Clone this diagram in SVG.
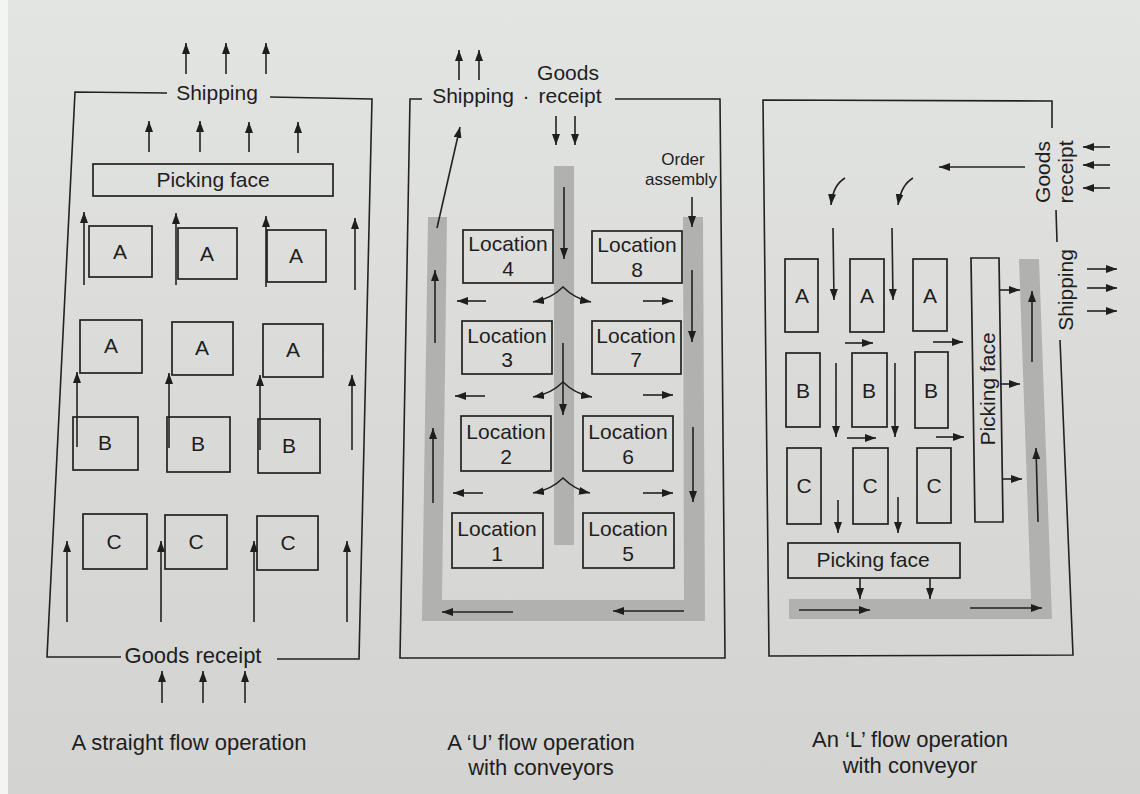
<svg xmlns="http://www.w3.org/2000/svg" width="1140" height="794" viewBox="0 0 1140 794">
  <defs>
    <linearGradient id="paper" x1="0" y1="0" x2="0" y2="1">
      <stop offset="0" stop-color="#e3e5e3"/>
      <stop offset="0.5" stop-color="#dadbd9"/>
      <stop offset="1" stop-color="#d3d3d1"/>
    </linearGradient>
    <marker id="ah" viewBox="0 0 11 8" refX="11" refY="4" markerWidth="11" markerHeight="8" markerUnits="userSpaceOnUse" orient="auto-start-reverse">
      <path d="M0,0 L11,4 L0,8 Z" fill="#1e1e1e"/>
    </marker>
    <style>
      .frame { fill: none; stroke: #222; stroke-width: 1.6; }
      .box { fill: none; stroke: #222; stroke-width: 1.7; }
      .conv { fill: #b1b1af; stroke: none; }
      .arr { fill: none; stroke: #222; stroke-width: 1.6; marker-end: url(#ah); }
      .split { fill: none; stroke: #222; stroke-width: 1.6; marker-start: url(#ah); marker-end: url(#ah); }
      .t { font-family: "Liberation Sans", Arial, Helvetica, sans-serif; fill: #1e1e1e; text-anchor: middle; font-size: 21px; }
      .sm { font-size: 17px; }
      .cap { font-size: 22px; }
    </style>
  </defs>

  <!-- page -->
  <rect x="0" y="0" width="1140" height="794" fill="url(#paper)"/>
  <rect x="0" y="0" width="8" height="794" fill="#f4f4f2"/>

  <!-- ===== Straight flow operation ===== -->
  <g id="straight-flow">
    <path class="frame" d="M167,93 L75,92 L47,657 L121,657 M270,97 L372,99 L359,659 L277,659"/>
    <g id="sf-shipping"><text class="t" x="217" y="100">Shipping</text></g>
    <g id="sf-picking-face">
      <rect class="box" x="93" y="164" width="240" height="32"/>
      <text class="t" x="213" y="187">Picking face</text>
    </g>
    <g id="sf-a1"><rect class="box" x="89" y="226" width="63" height="51"/><text class="t" x="120" y="259">A</text></g>
    <g id="sf-a2"><rect class="box" x="178" y="228" width="59" height="51"/><text class="t" x="207" y="261">A</text></g>
    <g id="sf-a3"><rect class="box" x="267" y="230" width="59" height="52"/><text class="t" x="296" y="263">A</text></g>
    <g id="sf-a4"><rect class="box" x="80" y="320" width="62" height="53"/><text class="t" x="111" y="353">A</text></g>
    <g id="sf-a5"><rect class="box" x="172" y="322" width="61" height="53"/><text class="t" x="202" y="355">A</text></g>
    <g id="sf-a6"><rect class="box" x="263" y="324" width="60" height="53"/><text class="t" x="293" y="357">A</text></g>
    <g id="sf-b1"><rect class="box" x="73" y="417" width="65" height="53"/><text class="t" x="105" y="450">B</text></g>
    <g id="sf-b2"><rect class="box" x="167" y="417" width="63" height="55"/><text class="t" x="198" y="451">B</text></g>
    <g id="sf-b3"><rect class="box" x="258" y="419" width="62" height="54"/><text class="t" x="289" y="453">B</text></g>
    <g id="sf-c1"><rect class="box" x="83" y="514" width="64" height="55"/><text class="t" x="114" y="549">C</text></g>
    <g id="sf-c2"><rect class="box" x="165" y="515" width="62" height="54"/><text class="t" x="196" y="549">C</text></g>
    <g id="sf-c3"><rect class="box" x="257" y="516" width="61" height="54"/><text class="t" x="288" y="550">C</text></g>
    <g id="sf-goods-receipt"><text class="t cap" x="193" y="663">Goods receipt</text></g>
    <g id="sf-caption"><text class="t cap" x="189" y="750">A straight flow operation</text></g>
  </g>

  <!-- ===== U flow operation with conveyors ===== -->
  <g id="u-flow">
    <path class="frame" d="M422,99 L410,99 L400,658 L725,658 L720,99 L615,99"/>
    <path class="conv" d="M428,217 L447,217 L442,600 L684,600 L683,217 L703,217 L705,621 L422,621 Z"/>
    <rect class="conv" x="554" y="166" width="20" height="379"/>
    <g id="u-shipping"><text class="t" x="473" y="103">Shipping</text><text class="t" x="526" y="103">·</text></g>
    <g id="u-goods-receipt"><text class="t" x="568" y="80">Goods</text><text class="t" x="570" y="103">receipt</text></g>
    <g id="u-order-assembly"><text class="t sm" x="683" y="165">Order</text><text class="t sm" x="681" y="185">assembly</text></g>
    <g id="u-loc4"><rect class="box" x="463" y="230" width="90" height="53"/><text class="t" x="508" y="251">Location</text><text class="t" x="508" y="276">4</text></g>
    <g id="u-loc8"><rect class="box" x="592" y="231" width="90" height="52"/><text class="t" x="637" y="252">Location</text><text class="t" x="637" y="277">8</text></g>
    <g id="u-loc3"><rect class="box" x="462" y="321" width="90" height="53"/><text class="t" x="507" y="343">Location</text><text class="t" x="507" y="367">3</text></g>
    <g id="u-loc7"><rect class="box" x="592" y="321" width="89" height="53"/><text class="t" x="636" y="343">Location</text><text class="t" x="636" y="367">7</text></g>
    <g id="u-loc2"><rect class="box" x="461" y="416" width="90" height="55"/><text class="t" x="506" y="439">Location</text><text class="t" x="506" y="464">2</text></g>
    <g id="u-loc6"><rect class="box" x="583" y="416" width="90" height="55"/><text class="t" x="628" y="439">Location</text><text class="t" x="628" y="464">6</text></g>
    <g id="u-loc1"><rect class="box" x="452" y="513" width="91" height="55"/><text class="t" x="497" y="536">Location</text><text class="t" x="497" y="561">1</text></g>
    <g id="u-loc5"><rect class="box" x="583" y="513" width="91" height="55"/><text class="t" x="628" y="536">Location</text><text class="t" x="628" y="561">5</text></g>
    <g id="u-caption">
      <text class="t cap" x="541" y="750">A ‘U’ flow operation</text>
      <text class="t cap" x="541" y="775">with conveyors</text>
    </g>
  </g>

  <!-- ===== L flow operation with conveyor ===== -->
  <g id="l-flow">
    <path class="frame" d="M1052,128 L1052,101 L763,100 L769,656 L1073,655 L1060,340 M1056,210 L1057,242"/>
    <path class="conv" d="M1019,259 L1039,259 L1052,619 L789,619 L789,599 L1031,599 Z"/>
    <g id="l-goods-receipt">
      <text class="t" transform="translate(1050,172) rotate(-90)">Goods</text>
      <text class="t" transform="translate(1073,172) rotate(-90)">receipt</text>
    </g>
    <g id="l-shipping"><text class="t" transform="translate(1073,290) rotate(-90)">Shipping</text></g>
    <g id="l-a1"><rect class="box" x="785" y="259" width="33" height="73"/><text class="t" x="802" y="303">A</text></g>
    <g id="l-a2"><rect class="box" x="850" y="259" width="34" height="73"/><text class="t" x="867" y="303">A</text></g>
    <g id="l-a3"><rect class="box" x="913" y="259" width="34" height="72"/><text class="t" x="930" y="303">A</text></g>
    <g id="l-b1"><rect class="box" x="786" y="353" width="34" height="74"/><text class="t" x="803" y="398">B</text></g>
    <g id="l-b2"><rect class="box" x="852" y="353" width="35" height="74"/><text class="t" x="869" y="398">B</text></g>
    <g id="l-b3"><rect class="box" x="915" y="352" width="33" height="76"/><text class="t" x="931" y="398">B</text></g>
    <g id="l-c1"><rect class="box" x="787" y="448" width="34" height="76"/><text class="t" x="804" y="493">C</text></g>
    <g id="l-c2"><rect class="box" x="853" y="448" width="35" height="76"/><text class="t" x="870" y="493">C</text></g>
    <g id="l-c3"><rect class="box" x="917" y="448" width="34" height="75"/><text class="t" x="934" y="493">C</text></g>
    <g id="l-picking-face-v">
      <path class="box" d="M971,258 L999,258 L1003,522 L975,522 Z"/>
      <text class="t" transform="translate(995,389) rotate(-90)">Picking face</text>
    </g>
    <g id="l-picking-face-h">
      <rect class="box" x="788" y="543" width="172" height="35"/>
      <text class="t" x="873" y="567">Picking face</text>
    </g>
    <g id="l-caption">
      <text class="t cap" x="910" y="747">An ‘L’ flow operation</text>
      <text class="t cap" x="910" y="773">with conveyor</text>
    </g>
  </g>

  <!-- ===== connectors ===== -->
  <g id="connectors">
    <!-- straight flow -->
    <path class="arr" d="M186,74 L186,43"/>
    <path class="arr" d="M226,74 L226,43"/>
    <path class="arr" d="M266,74 L266,43"/>
    <path class="arr" d="M149,152 L149,121"/>
    <path class="arr" d="M200,152 L200,121"/>
    <path class="arr" d="M249,152 L249,122"/>
    <path class="arr" d="M298,153 L298,122"/>
    <path class="arr" d="M84,285 L84,212"/>
    <path class="arr" d="M176,285 L176,213"/>
    <path class="arr" d="M266,287 L266,216"/>
    <path class="arr" d="M355,290 L355,218"/>
    <path class="arr" d="M77,447 L77,372"/>
    <path class="arr" d="M169,448 L169,373"/>
    <path class="arr" d="M260,450 L260,375"/>
    <path class="arr" d="M352,450 L352,375"/>
    <path class="arr" d="M67,622 L67,541"/>
    <path class="arr" d="M161,622 L161,541"/>
    <path class="arr" d="M254,622 L254,541"/>
    <path class="arr" d="M347,622 L347,541"/>
    <path class="arr" d="M162,703 L162,671"/>
    <path class="arr" d="M203,703 L203,671"/>
    <path class="arr" d="M245,703 L245,671"/>

    <!-- U flow -->
    <path class="arr" d="M459,80 L459,50"/>
    <path class="arr" d="M479,80 L479,50"/>
    <path class="arr" d="M437,228 L460,127"/>
    <path class="arr" d="M556,116 L556,145"/>
    <path class="arr" d="M575,116 L575,145"/>
    <path class="arr" d="M564,187 L564,259"/>
    <path class="arr" d="M563,343 L563,415"/>
    <path class="arr" d="M692,197 L692,227"/>
    <path class="arr" d="M435,343 L435,270"/>
    <path class="arr" d="M433,503 L433,428"/>
    <path class="arr" d="M692,270 L692,342"/>
    <path class="arr" d="M693,427 L693,502"/>
    <path class="arr" d="M486,301 L457,301"/>
    <path class="arr" d="M485,396 L455,396"/>
    <path class="arr" d="M483,493 L453,493"/>
    <path class="arr" d="M643,301 L673,301"/>
    <path class="arr" d="M643,395 L673,395"/>
    <path class="arr" d="M643,493 L673,493"/>
    <path class="split" d="M533,302 C545,300 555,295 563,287 C571,295 580,300 591,302"/>
    <path class="split" d="M533,397 C545,395 555,390 563,382 C571,390 580,395 592,397"/>
    <path class="split" d="M533,493 C545,491 555,486 563,478 C571,486 580,491 590,493"/>
    <path class="arr" d="M513,612 L442,612"/>
    <path class="arr" d="M684,611 L613,611"/>

    <!-- L flow -->
    <path class="arr" d="M1110,147 L1083,147"/>
    <path class="arr" d="M1110,165 L1083,165"/>
    <path class="arr" d="M1110,188 L1083,188"/>
    <path class="arr" d="M1025,167 L939,167"/>
    <path class="arr" d="M845,178 Q833,185 831,205"/>
    <path class="arr" d="M913,178 Q901,185 898,205"/>
    <path class="arr" d="M833,228 L834,300"/>
    <path class="arr" d="M892,228 L893,300"/>
    <path class="arr" d="M845,343 L873,343"/>
    <path class="arr" d="M933,342 L963,342"/>
    <path class="arr" d="M836,363 L836,437"/>
    <path class="arr" d="M895,363 L895,437"/>
    <path class="arr" d="M847,438 L876,438"/>
    <path class="arr" d="M936,437 L964,437"/>
    <path class="arr" d="M838,500 L838,533"/>
    <path class="arr" d="M898,497 L898,533"/>
    <path class="arr" d="M860,578 L860,599"/>
    <path class="arr" d="M930,578 L930,599"/>
    <path class="arr" d="M1032,362 L1032,291"/>
    <path class="arr" d="M1038,522 L1036,448"/>
    <path class="arr" d="M1000,290 L1020,290"/>
    <path class="arr" d="M1000,384 L1020,384"/>
    <path class="arr" d="M1002,479 L1022,479"/>
    <path class="arr" d="M1087,269 L1117,269"/>
    <path class="arr" d="M1087,288 L1117,288"/>
    <path class="arr" d="M1087,311 L1117,311"/>
    <path class="arr" d="M799,610 L870,610"/>
    <path class="arr" d="M970,608 L1042,608"/>
  </g>
</svg>
